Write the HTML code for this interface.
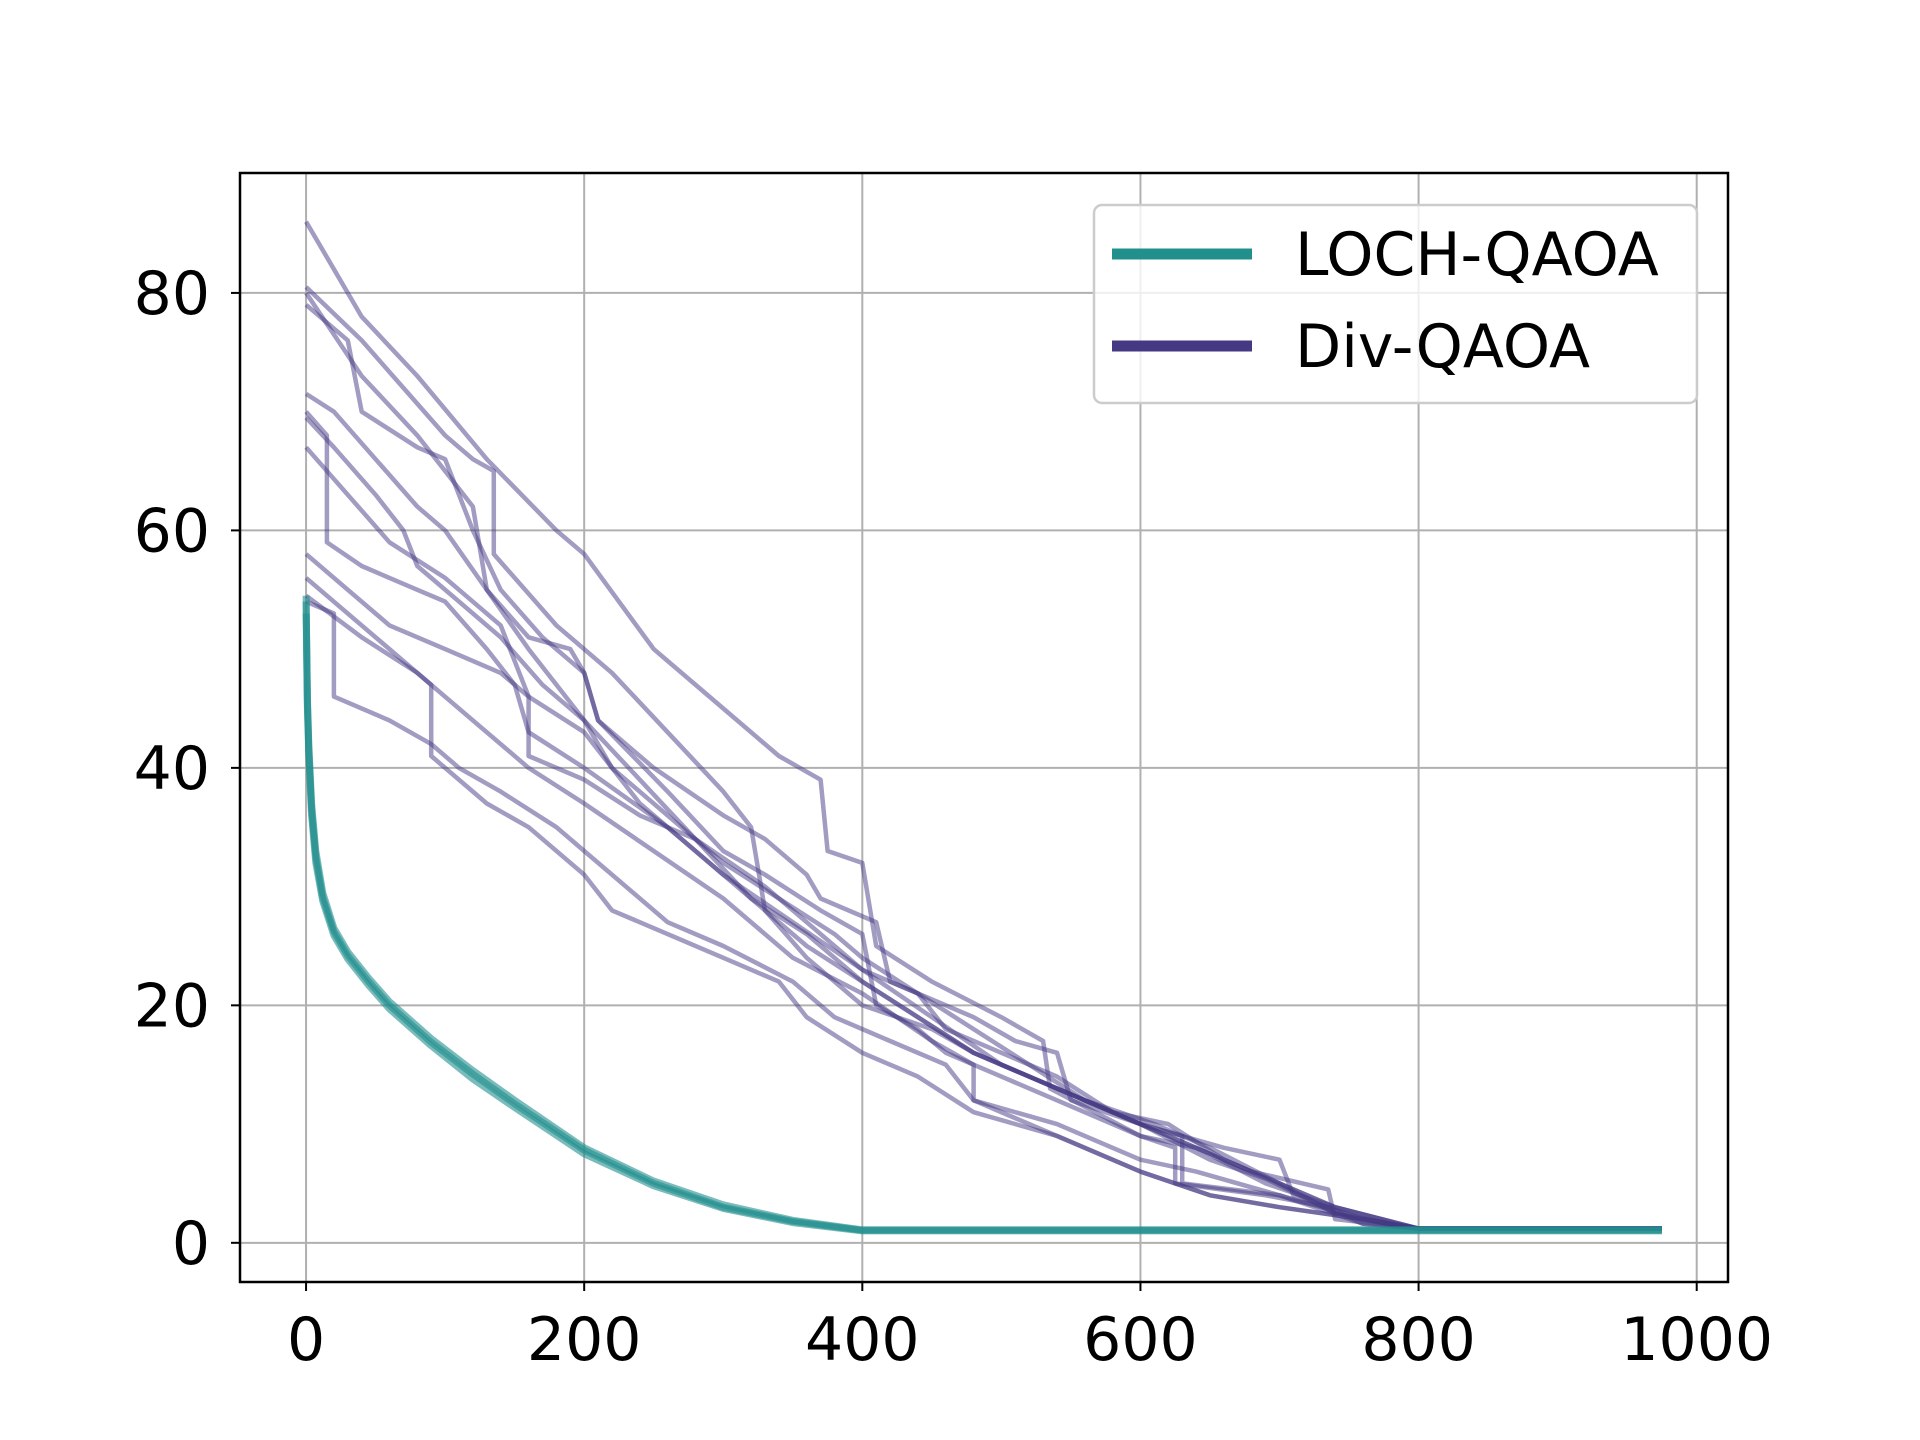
<!DOCTYPE html>
<html><head><meta charset="utf-8"><style>
html,body{margin:0;padding:0;background:#fff;}
svg{display:block;font-family:"DejaVu Sans","Liberation Sans",sans-serif;}
</style></head><body>
<svg id="chart" width="1920" height="1440" viewBox="0 0 1920 1440" xmlns="http://www.w3.org/2000/svg">
<rect width="1920" height="1440" fill="#fff"/>
<g id="grid"></g>
<g id="series"></g>
<rect x="240" y="173" width="1488" height="1109" fill="none" stroke="#000" stroke-width="2.5"/>
<g id="ticks"></g>
<g>
<rect x="1094" y="205" width="603" height="198" rx="8" fill="#fff" fill-opacity="0.8" stroke="#ccc" stroke-width="2.5"/>
<line x1="1112" y1="254" x2="1252" y2="254" stroke="#21908d" stroke-width="11"/>
<text x="1295" y="275" font-size="60" fill="#000">LOCH-QAOA</text>
<line x1="1112" y1="346" x2="1252" y2="346" stroke="#443983" stroke-width="11"/>
<text x="1295" y="367" font-size="60" fill="#000">Div-QAOA</text>
</g>
</svg>
<script>
const xTicks=[0,200,400,600,800,1000];
const yTicks=[0,20,40,60,80];
const divRuns=[
[[0,86],[40,78],[80,73],[130,66],[180,60],[200,58],[250,50],[300,45],[340,41],[370,39],[375,33],[400,32],[410,25],[450,22],[500,19],[530,17],[535,13],[600,9],[640,8],[680,6],[735,4.5],[740,2],[800,1.2],[975,1.2]],
[[0,80.5],[40,76],[70,72],[100,68],[120,66],[135,65],[135,58],[180,52],[220,48],[260,43],[300,38],[320,35],[330,28],[360,24],[400,20],[450,18],[480,16],[540,13],[600,10],[630,9],[630,5],[700,4],[760,1.6],[800,1.2],[975,1.2]],
[[0,80],[40,73],[80,68],[120,62],[130,55],[160,50],[200,44],[240,39],[280,34],[330,30],[360,27],[400,23],[450,19],[500,15],[560,12],[620,9],[680,6],[740,2.5],[800,1.2],[975,1.2]],
[[0,79],[30,76],[40,70],[80,67],[100,66],[120,60],[140,55],[170,51],[200,48],[210,44],[260,38],[300,33],[330,31],[370,28],[400,26],[410,20],[440,18],[460,16],[500,14],[540,12],[600,9],[625,8],[625,5],[690,4],[735,3],[760,1.6],[800,1.2],[975,1.2]],
[[0,71.5],[20,70],[50,66],[80,62],[100,60],[130,55],[160,51],[190,50],[200,48],[210,44],[250,40],[300,36],[330,34],[360,31],[370,29],[410,27],[420,22],[480,19],[510,17],[540,16],[550,12],[600,10],[660,8],[700,7],[710,4],[760,2],[800,1.2],[975,1.2]],
[[0,70],[15,68],[15,59],[40,57],[80,55],[100,54],[130,50],[150,47],[160,43],[200,40],[260,35],[300,31],[350,27],[400,23],[440,21],[460,18],[500,16],[540,14],[580,11],[620,10],[660,7],[700,5],[740,2.5],[780,1.5],[800,1.2],[975,1.2]],
[[0,69.5],[20,67],[50,63],[70,60],[80,57],[110,54],[140,51],[170,47],[200,44],[220,40],[260,36],[300,32],[340,29],[380,26],[400,24],[440,21],[480,18],[520,15],[560,12],[600,10],[640,8],[690,5],[740,3],[800,1.2],[975,1.2]],
[[0,67],[30,63],[60,59],[100,56],[140,52],[160,46],[200,43],[240,37],[280,33],[320,29],[360,26],[400,22],[440,19],[480,16],[520,14],[560,12],[610,10],[650,8],[700,5],[740,3],[800,1.2],[975,1.2]],
[[0,58],[30,55],[60,52],[100,50],[140,48],[160,46],[160,41],[200,39],[240,36],[280,34],[320,29],[360,25],[400,22],[440,19],[480,16],[520,14],[560,12],[600,10],[650,7],[700,5],[740,3],[800,1.2],[975,1.2]],
[[0,56],[40,52],[80,48],[120,44],[160,40],[200,37],[250,33],[300,29],[350,24],[400,21],[450,17],[480,15],[480,12],[540,10],[600,7],[640,6],[700,4],[760,2],[800,1.2],[975,1.2]],
[[0,54],[20,53],[20,46],[60,44],[90,42],[110,40],[140,38],[180,35],[200,33],[220,31],[260,27],[300,25],[350,22],[380,19],[420,17],[460,15],[480,12],[520,10],[560,8],[600,6],[650,4],[700,3],[760,2],[800,1.2],[975,1.2]],
[[0,54.5],[40,51],[80,48],[90,47],[90,41],[130,37],[160,35],[200,31],[220,28],[260,26],[300,24],[340,22],[360,19],[400,16],[440,14],[480,11],[540,9],[600,6],[650,4],[700,3],[760,2],[800,1.2],[975,1.2]]
];
const lochRunA=[[0,54],[1,46],[2,42],[4,37],[7,33],[12,29.5],[20,26.5],[30,24.5],[45,22.3],[60,20.3],[90,17.2],[120,14.5],[150,12],[200,8],[250,5.2],[300,3.2],[350,1.9],[400,1.1],[975,1.1]];
const lochRunB=[[0,53],[1,45],[2,41],[4,36],[7,32],[12,28.8],[20,25.9],[30,23.9],[45,21.7],[60,19.7],[90,16.6],[120,13.8],[150,11.4],[200,7.5],[250,4.8],[300,2.9],[350,1.7],[400,1.0],[975,1.0]];
const lochRunC=[[0,54.5],[1,45.5],[2,41.5],[4,36.5],[7,32.5],[12,29.1],[20,26.2],[30,24.2],[45,22],[60,20],[90,16.9],[120,14.2],[150,11.7],[200,7.8],[250,5],[300,3],[350,1.8],[400,1.05],[975,1.05]];

const X0=240,X1=1728,Y0=173,Y1=1282;
const xv0=-47.5,xv1=1022.5,yv0=-3.3,yv1=90.1;
const sx=v=>X0+(v-xv0)/(xv1-xv0)*(X1-X0);
const sy=v=>Y1-(v-yv0)/(yv1-yv0)*(Y1-Y0);
const NS="http://www.w3.org/2000/svg";
const grid=document.getElementById('grid'),ticks=document.getElementById('ticks'),series=document.getElementById('series');
function mk(t,a,p){const e=document.createElementNS(NS,t);for(const k in a)e.setAttribute(k,a[k]);p.appendChild(e);return e;}
xTicks.forEach(v=>{
 const x=sx(v);
 const g=mk('line',{x1:x,x2:x,y1:Y0,y2:Y1,stroke:'#b0b0b0','stroke-width':2},grid);
 
 
 const t=mk('line',{x1:x,x2:x,y1:Y1,y2:Y1+9,stroke:'#000','stroke-width':2},ticks);
 
 
 const l=mk('text',{x:x,y:1360,'font-size':60,'text-anchor':'middle'},ticks);
 l.textContent=v;
 
 
});
yTicks.forEach(v=>{
 const y=sy(v);
 const g=mk('line',{x1:X0,x2:X1,y1:y,y2:y,stroke:'#b0b0b0','stroke-width':2},grid);
 
 
 const t=mk('line',{x1:X0-9,x2:X0,y1:y,y2:y,stroke:'#000','stroke-width':2},ticks);
 
 
 const l=mk('text',{x:210,y:y+21,'font-size':60,'text-anchor':'end'},ticks);
 l.textContent=v;
 
 
});
function pts(r){return r.map(p=>sx(p[0]).toFixed(1)+','+sy(p[1]).toFixed(1)).join(' ');}
divRuns.forEach(r=>{
 const e=mk('polyline',{points:pts(r),fill:'none',stroke:'#443983','stroke-opacity':0.5,'stroke-width':4.5,'stroke-linejoin':'round'},series);
 
 
});
[lochRunA,lochRunB,lochRunC].forEach(r=>{
 const e=mk('polyline',{points:pts(r),fill:'none',stroke:'#21908d','stroke-opacity':0.6,'stroke-width':7,'stroke-linejoin':'round'},series);
 
 
});
</script>
</body></html>
